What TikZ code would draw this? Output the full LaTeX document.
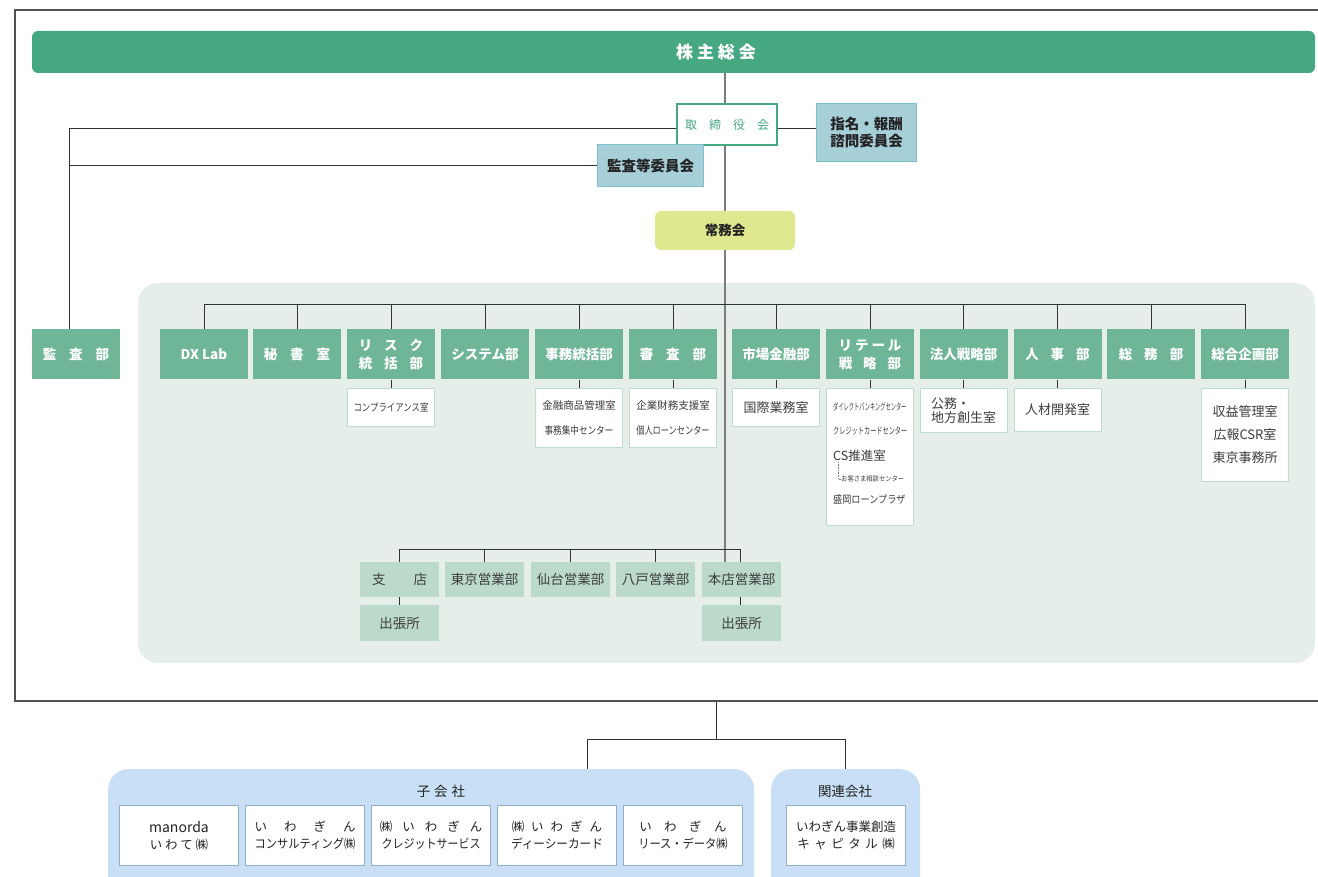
\documentclass[tikz,border=0pt]{standalone}
\usepackage{fontspec}
\setmainfont{Noto Sans CJK JP}
\usepackage{graphicx}
\pgfdeclarelayer{back}
\pgfdeclarelayer{lines}
\pgfsetlayers{back,lines,main}
\definecolor{hdrgreen}{RGB}{70,167,131}
\definecolor{deptgreen}{RGB}{110,182,151}
\definecolor{panelgreen}{RGB}{229,238,233}
\definecolor{subline}{RGB}{190,221,204}
\definecolor{branchfill}{RGB}{188,218,203}
\definecolor{comfill}{RGB}{167,207,216}
\definecolor{comline}{RGB}{125,191,204}
\definecolor{jomufill}{RGB}{224,232,143}
\definecolor{kopanel}{RGB}{200,223,245}
\definecolor{koline}{RGB}{143,175,201}
\definecolor{txtdark}{RGB}{35,35,35}
\definecolor{txtgray}{RGB}{60,60,60}
\definecolor{linedark}{RGB}{50,50,50}
\definecolor{maingray}{RGB}{125,125,125}
\definecolor{framegray}{RGB}{80,80,80}
\newcommand{\hsq}[2]{\scalebox{#1}[1]{#2}}
\newcommand{\gapx}[1]{\hspace{#1pt}}
\begin{document}
\begin{tikzpicture}[x=1pt,y=-1pt,
  dept/.style={rectangle, fill=deptgreen, text=white, minimum width=88pt, minimum height=50pt, inner sep=0pt, align=center, font=\fontsize{13.5}{18}\selectfont\bfseries},
  subbox/.style={rectangle, draw=subline, line width=1pt, fill=white, minimum width=87pt, inner sep=0pt, anchor=north, align=center, text=txtgray},
  brbox/.style={rectangle, fill=branchfill, minimum width=79pt, minimum height=35pt, inner sep=0pt, text=txtgray, font=\fontsize{13.5}{15}\selectfont},
  combox/.style={rectangle, fill=comfill, draw=comline, line width=1pt, inner sep=0pt, align=center, text=txtdark, font=\fontsize{14.5}{16.5}\selectfont\bfseries},
  kobox/.style={rectangle, fill=white, draw=koline, line width=1.2pt, minimum width=119pt, minimum height=60pt, inner sep=0pt, align=center, text=txtdark, font=\fontsize{12.5}{17}\selectfont},
  kopanelbox/.style={rectangle, rounded corners=20pt, fill=kopanel, minimum height=140pt, inner sep=0pt, anchor=north west},
  conn/.style={draw=linedark, line width=1pt},
  mainline/.style={draw=maingray, line width=2pt},
  sublabel/.style={inner sep=0pt, anchor=west, text=txtgray},
  titlelabel/.style={inner sep=0pt, text=txtdark, font=\fontsize{13.5}{15}\selectfont}
]
\useasboundingbox (0,0) rectangle (1318,877);

% helper coordinates
\coordinate (mx) at (725,0);
\coordinate (lx) at (69,0);
\coordinate (yb) at (0,129);
\coordinate (dy) at (0,305);
\coordinate (bry) at (0,549);
\coordinate (by) at (0,739);
\coordinate (fb) at (716,701);
\coordinate (kd) at (587,0);

% outer frame
\draw[framegray, line width=1.2pt] (1318,10) -- (15,10) -- (15,701) -- (1318,701);

% header
\node[rectangle, rounded corners=6pt, fill=hdrgreen, minimum width=1283pt, minimum height=42pt, inner sep=0pt] (agm) at (673.5,52) {};
\node[inner sep=0pt, text=white, font=\fontsize{17}{20}\selectfont\bfseries] (agmt) at (716,52) {株\gapx{4}主\gapx{4}総\gapx{4}会};

% board
\node[rectangle, draw=hdrgreen, line width=2pt, fill=white, minimum width=100pt, minimum height=41pt, inner sep=0pt, text=hdrgreen, font=\fontsize{12}{14}\selectfont] (board) at (727,124.5) {取\gapx{12}締\gapx{12}役\gapx{12}会};
\node[combox, minimum width=106pt, minimum height=42pt] (acom) at (650.5,165.5) {監査等委員会};
\node[combox, minimum width=100pt, minimum height=58pt] (ncom) at (866.5,132.5) {指名・報酬\\諮問委員会};
\node[rectangle, rounded corners=6pt, fill=jomufill, minimum width=140pt, minimum height=39pt, inner sep=0pt, text=txtdark, font=\fontsize{13.5}{16}\selectfont\bfseries] (jomu) at (725,230.5) {常務会};

% panel
\begin{pgfonlayer}{back}
\node[rectangle, rounded corners=20pt, fill=panelgreen, minimum width=1177pt, minimum height=380pt, inner sep=0pt] (panel) at (726.5,473) {};
\end{pgfonlayer}

% departments
\node[dept] (kansa) at (76,354.5) {監\gapx{13}査\gapx{13}部};
\node[dept] (dx) at (204,354.5) {DX Lab};
\node[dept] (hisho) at (297,354.5) {秘\gapx{13}書\gapx{13}室};
\node[dept] (risk) at (391,354.5) {リ\gapx{12}ス\gapx{12}ク\\統\gapx{12}括\gapx{12}部};
\node[dept] (sys) at (485,354.5) {システム部};
\node[dept] (jimu) at (579,354.5) {事務統括部};
\node[dept] (shinsa) at (673,354.5) {審\gapx{13}査\gapx{13}部};
\node[dept] (ichiba) at (776,354.5) {市場金融部};
\node[dept] (retail) at (870,354.5) {リ\gapx{3}テ\gapx{3}ー\gapx{3}ル\\戦\gapx{11}略\gapx{11}部};
\node[dept] (hojin) at (963.5,354.5) {法人戦略部};
\node[dept] (jinji) at (1057.5,354.5) {人\gapx{12}事\gapx{12}部};
\node[dept] (somu) at (1151,354.5) {総\gapx{12}務\gapx{12}部};
\node[dept] (sogo) at (1245,354.5) {総合企画部};

% sub boxes
\node[subbox, minimum height=38pt, font=\fontsize{10.5}{12}\selectfont] (comp) at (391,388) {\hsq{0.8}{コンプライアンス室}};
\node[subbox, minimum height=59pt, font=\fontsize{10.5}{25}\selectfont] (jimusub) at (579,388) {金融商品管理室\\\hsq{0.82}{事務集中センター}};
\node[subbox, minimum height=59pt, font=\fontsize{10.5}{25}\selectfont] (shinsasub) at (673,388) {企業財務支援室\\\hsq{0.78}{個人ローンセンター}};
\node[subbox, minimum height=38pt, font=\fontsize{13}{15}\selectfont] (kokusai) at (776,388) {国際業務室};
\node[subbox, minimum height=137pt] (retailsub) at (870,388) {};
\node[subbox, minimum height=44pt, align=left, font=\fontsize{13}{14}\selectfont] (komu) at (963.5,388) {公務・\\地方創生室};
\node[subbox, minimum height=43pt, font=\fontsize{13}{15}\selectfont] (jinzai) at (1057.5,388) {人材開発室};
\node[subbox, minimum height=93pt, font=\fontsize{13}{23}\selectfont] (sogosub) at (1245,388) {収益管理室\\広報CSR室\\東京事務所};

% retail sub labels
\node[sublabel, font=\fontsize{9.5}{10}\selectfont] (rt1) at (833,407) {\hsq{0.55}{ダイレクトバンキングセンター}};
\node[sublabel, font=\fontsize{9.5}{10}\selectfont] (rt2) at (833,431) {\hsq{0.65}{クレジットカードセンター}};
\node[sublabel, font=\fontsize{12.5}{14}\selectfont] (rt3) at (833,456) {CS推進室};
\node[sublabel, font=\fontsize{7}{8}\selectfont] (rt4) at (841,479) {\hsq{0.9}{お客さま相談センター}};
\node[sublabel, font=\fontsize{10.5}{12}\selectfont] (rt5) at (833,500) {\hsq{0.87}{盛岡ローンプラザ}};
\draw[gray, densely dotted, line width=0.6pt] ([xshift=-3pt]rt4.west |- rt3.south) -- ([xshift=-3pt]rt4.west) -- (rt4.west);

% branches
\node[brbox] (shiten) at (399.5,579.5) {支\gapx{28}店};
\node[brbox] (tokyo) at (484.5,579.5) {東京営業部};
\node[brbox] (sendai) at (570.5,579.5) {仙台営業部};
\node[brbox] (hachi) at (655.5,579.5) {八戸営業部};
\node[brbox] (honten) at (741.5,579.5) {本店営業部};
\node[brbox, minimum height=36pt] (shutcho1) at (399.5,623) {出張所};
\node[brbox, minimum height=36pt] (shutcho2) at (741.5,623) {出張所};

% subsidiaries
\node[kopanelbox, minimum width=646pt] (kopan) at (108,769) {};
\node[kopanelbox, minimum width=149pt] (kanpan) at (771,769) {};
\node[titlelabel] (kot) at (441,791) {子\gapx{4}会\gapx{4}社};
\node[titlelabel] (kant) at (845,791) {関連会社};
\node[kobox] (ko1) at (179,835.5) {{\fontsize{14}{17}\selectfont manorda}\\い わ て ㈱};
\node[kobox] (ko2) at (305,835.5) {い\gapx{17}わ\gapx{17}ぎ\gapx{17}ん\\\hsq{0.9}{コンサルティング㈱}};
\node[kobox] (ko3) at (431,835.5) {㈱\gapx{10}い\gapx{10}わ\gapx{10}ぎ\gapx{10}ん\\\hsq{0.88}{クレジットサービス}};
\node[kobox] (ko4) at (557,835.5) {㈱\gapx{7}い\gapx{7}わ\gapx{7}ぎ\gapx{7}ん\\\hsq{0.93}{ディーシーカード}};
\node[kobox] (ko5) at (683,835.5) {い\gapx{12.5}わ\gapx{12.5}ぎ\gapx{12.5}ん\\\hsq{0.9}{リース・データ㈱}};
\node[kobox] (kan1) at (846,835.5) {いわぎん事業創造\\キ\gapx{4.5}ャ\gapx{4.5}ピ\gapx{4.5}タ\gapx{4.5}ル\gapx{4.5}㈱};

% connectors
\begin{pgfonlayer}{lines}
\draw[mainline] (agm.south -| mx) -- (honten.north -| mx);
\draw[conn] (board.west |- yb) -| (lx |- kansa.north);
\draw[conn] (acom.west) -- (acom.west -| lx);
\draw[conn] (board.east |- yb) -- (ncom.west |- yb);
\draw[conn] (dx.north) |- (sogo.north |- dy) -- (sogo.north);
\foreach \n in {hisho,risk,sys,jimu,shinsa,ichiba,retail,hojin,jinji,somu}
  \draw[conn] (\n.north) -- (\n.north |- dy);
\foreach \a/\b in {risk/comp,jimu/jimusub,shinsa/shinsasub,ichiba/kokusai,retail/retailsub,hojin/komu,jinji/jinzai,sogo/sogosub}
  \draw[conn] (\a.south) -- (\b.north);
\draw[conn] (shiten.north) |- ([xshift=-1.5pt]honten.north |- bry) -- ([xshift=-1.5pt]honten.north);
\foreach \n in {tokyo,sendai,hachi}
  \draw[conn] (\n.north) -- (\n.north |- bry);
\draw[conn] (shiten.south) -- (shutcho1.north);
\draw[conn] ([xshift=-1.5pt]honten.south) -- ([xshift=-1.5pt]shutcho2.north);
\draw[conn] (fb) -- (fb |- by);
\draw[conn] (kd |- kopan.north) |- (kanpan.north |- by) -- (kanpan.north);
\end{pgfonlayer}
\end{tikzpicture}
\end{document}
